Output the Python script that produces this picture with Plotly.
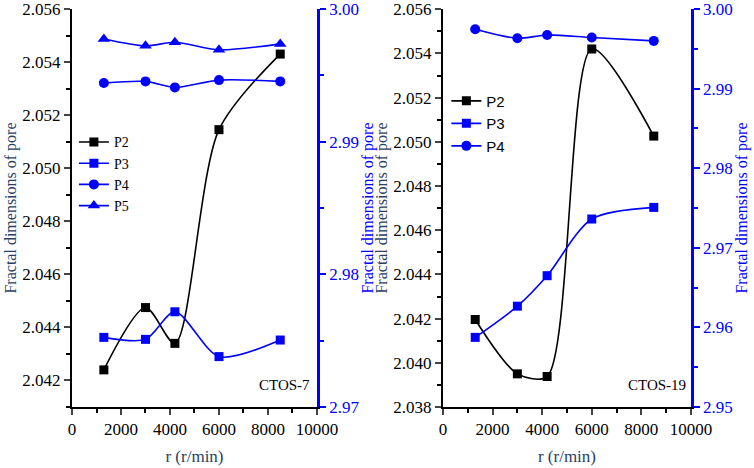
import plotly.graph_objects as go

# rotation speed, r/min
r = [1300, 3000, 4200, 6000, 8500]

# CTOS-7
c7_p2 = [2.0424, 2.04475, 2.0434, 2.05146, 2.05431]
c7_p3 = [2.97525, 2.9751, 2.97718, 2.9738, 2.97505]
c7_p4 = [2.99443, 2.99455, 2.9941, 2.99465, 2.99455]
c7_p5 = [2.99775, 2.99723, 2.9975, 2.99693, 2.99738]

# CTOS-19
c19_p2 = [2.04196, 2.0395, 2.03938, 2.0542, 2.05026]
c19_p3 = [2.95875, 2.96267, 2.9665, 2.97362, 2.97508]
c19_p4 = [2.99746, 2.99633, 2.99675, 2.99642, 2.996]

x_ticks = [0, 2000, 4000, 6000, 8000, 10000]
left7_ticks = [2.042, 2.044, 2.046, 2.048, 2.050, 2.052, 2.054, 2.056]
left19_ticks = [2.038, 2.040, 2.042, 2.044, 2.046, 2.048, 2.050, 2.052, 2.054, 2.056]
right7_ticks = [2.97, 2.98, 2.99, 3.00]
right19_ticks = [2.95, 2.96, 2.97, 2.98, 2.99, 3.00]

BLUE = "#0000ff"
SERIF = "Liberation Serif, Times New Roman, serif"

fig = go.Figure()


def add(x, y, name, color, symbol, xa, ya, legend, size=9):
    fig.add_trace(go.Scatter(
        x=x, y=y, name=name, mode="lines+markers",
        line=dict(color=color, width=1.6, shape="spline", smoothing=0.8),
        marker=dict(color=color, symbol=symbol, size=size),
        xaxis=xa, yaxis=ya, legend=legend))


add(r, c7_p2, "P2", "black", "square", "x", "y", "legend")
add(r, c7_p3, "P3", BLUE, "square", "x", "y2", "legend")
add(r, c7_p4, "P4", BLUE, "circle", "x", "y2", "legend", 10)
add(r, c7_p5, "P5", BLUE, "triangle-up", "x", "y2", "legend", 11)

add(r, c19_p2, "P2", "black", "square", "x2", "y3", "legend2")
add(r, c19_p3, "P3", BLUE, "square", "x2", "y4", "legend2")
add(r, c19_p4, "P4", BLUE, "circle", "x2", "y4", "legend2", 10)

tick_font = dict(family=SERIF, size=17, color="black")
blue_font = dict(family=SERIF, size=17, color=BLUE)

xbase = dict(range=[0, 10000.01], tickvals=x_ticks, ticktext=[str(v) for v in x_ticks],
             ticks="outside", ticklen=6, tickwidth=2, linecolor="black",
             linewidth=2, showgrid=False, zeroline=False, tickfont=tick_font,
             automargin=False, ticklabeloverflow="allow",
             minor=dict(dtick=1000, ticks="outside", ticklen=4, tickwidth=1.5,
                        tickcolor="black"),
             title=dict(text="r (r/min)", font=dict(family=SERIF, size=17),
                        standoff=12))


def yleft(rng, vals, anchor):
    return dict(range=rng, tickvals=vals, ticktext=["%.3f" % v for v in vals],
                ticks="outside", ticklen=6, tickwidth=2, linecolor="black",
                linewidth=2, showgrid=False, zeroline=False, tickfont=tick_font,
                anchor=anchor, automargin=False, ticklabeloverflow="allow",
                minor=dict(dtick=0.001, ticks="outside", ticklen=4,
                           tickwidth=1.5, tickcolor="black"),
                title=dict(text="Fractal dimensions of pore",
                           font=dict(family=SERIF, size=16), standoff=2))


def yright(rng, vals, over, anchor):
    return dict(range=rng, tickvals=vals, ticktext=["%.2f" % v for v in vals],
                overlaying=over, side="right", anchor=anchor, automargin=False,
                ticklabeloverflow="allow",
                ticks="outside", ticklen=6, tickwidth=2, tickcolor=BLUE,
                linecolor=BLUE, linewidth=2.5, showgrid=False, zeroline=False,
                tickfont=blue_font,
                minor=dict(dtick=0.005, ticks="outside", ticklen=4,
                           tickwidth=1.5, tickcolor=BLUE),
                title=dict(text="Fractal dimensions of pore",
                           font=dict(family=SERIF, size=16, color=BLUE),
                           standoff=2))


fig.update_layout(
    width=754, height=468,
    margin=dict(l=0, r=0, t=9, b=61, autoexpand=False),
    font=dict(family=SERIF),
    plot_bgcolor="white", paper_bgcolor="white",
    xaxis=dict(domain=[0.0955, 0.4204], anchor="y", **xbase),
    xaxis2=dict(domain=[0.5875, 0.9164], anchor="y3", **xbase),
    yaxis=yleft([2.041, 2.05601], left7_ticks, "x"),
    yaxis2=yright([2.97, 3.00001], right7_ticks, "y", "x"),
    yaxis3=yleft([2.038, 2.05601], left19_ticks, "x2"),
    yaxis4=yright([2.95, 3.00001], right19_ticks, "y3", "x2"),
    legend=dict(x=0.098, y=0.705, xanchor="left", yanchor="top",
                bgcolor="rgba(0,0,0,0)", tracegroupgap=0,
                font=dict(family=SERIF, size=14, color="black"),
                itemwidth=30),
    legend2=dict(x=0.592, y=0.81, xanchor="left", yanchor="top",
                 bgcolor="rgba(0,0,0,0)",
                 font=dict(family="Liberation Sans", size=15, color="black"),
                 itemwidth=30),
    showlegend=True,
    annotations=[
        dict(text="CTOS-7", x=0.414, y=0.03, xref="paper", yref="paper",
             xanchor="right", yanchor="bottom", showarrow=False,
             font=dict(family=SERIF, size=15, color="black")),
        dict(text="CTOS-19", x=0.912, y=0.03, xref="paper", yref="paper",
             xanchor="right", yanchor="bottom", showarrow=False,
             font=dict(family=SERIF, size=15, color="black")),
    ],
)

# drop the browser's default page margin so the figure sits at the top-left corner
fig.write_html("out.html", config={"displayModeBar": False},
               post_script="document.body.style.margin='0';")
